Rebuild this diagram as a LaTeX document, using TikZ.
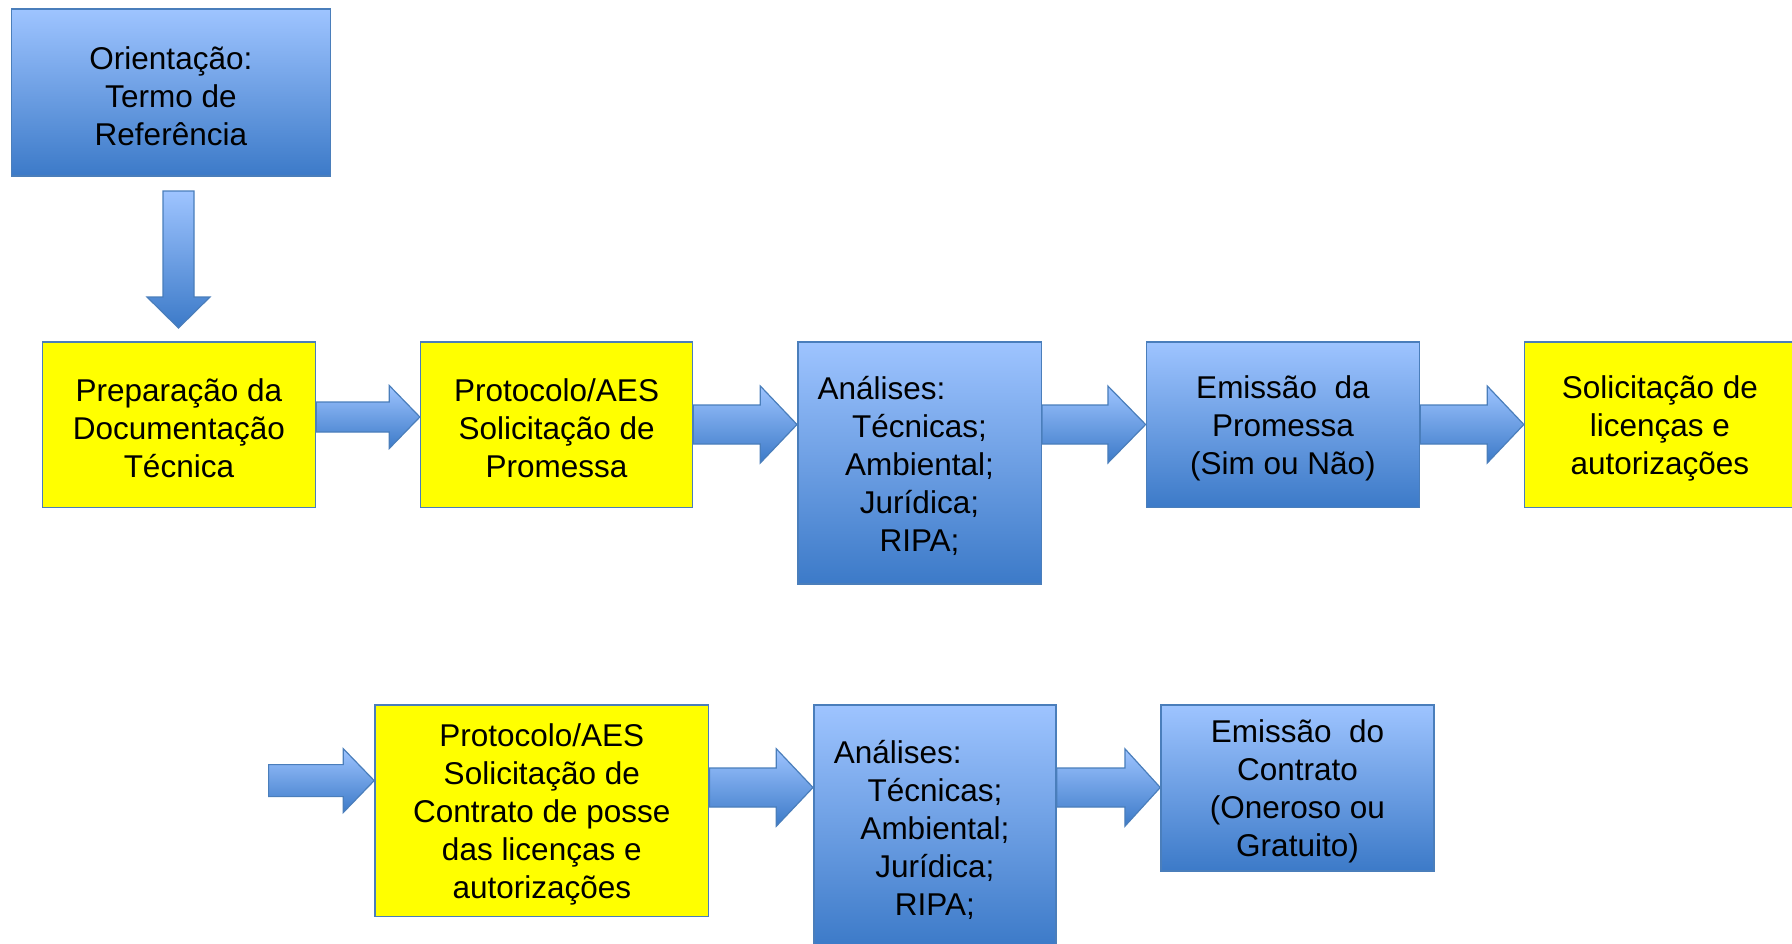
\documentclass[tikz,border=0pt]{standalone}
\usepackage{fontspec}
\setmainfont{Liberation Sans}
\usetikzlibrary{calc}
\definecolor{bord}{RGB}{74,126,187}
\definecolor{btop}{RGB}{158,196,255}
\definecolor{bbot}{RGB}{60,122,200}
\definecolor{yel}{RGB}{255,255,0}
\tikzset{
  box/.style={draw=bord, line width=1.5pt, inner sep=0pt},
  ybox/.style={box, fill=yel},
  bbox/.style={box, top color=btop, bottom color=bbot},
  txt/.style={inner sep=0pt, align=center, font=\fontsize{31.5}{38}\selectfont, text=black},
  barrow/.style={draw=bord, line width=1.2pt, top color=btop, bottom color=bbot, line join=miter},
}
% #1 tail, #2 tip, #3 y centre (px), #4 shaft half height, #5 head half height, #6 head length
\newcommand{\hbarrow}[6]{%
  \draw[barrow] let \p1=(#1), \p2=(#2) in
    (\x1,{#3-#4}) -- ({\x2-#6pt},{#3-#4}) -- ({\x2-#6pt},{#3-#5}) -- (\x2,#3)
    -- ({\x2-#6pt},{#3+#5}) -- ({\x2-#6pt},{#3+#4}) -- (\x1,{#3+#4}) -- cycle;
}
\begin{document}
\begin{tikzpicture}[x=1pt,y=-1pt]
\useasboundingbox (0,0) rectangle (1792,943);

% top box
\node[bbox, minimum width=318.9pt, minimum height=166.9pt] (top) at (170.9,92.6) {};
\node[txt] (ttop) at ([yshift=-3.5pt]top.center) {Orientação:\\Termo de\\Referência};

% row 1
\node[ybox, minimum width=273.1pt, minimum height=165.7pt] (b1) at (178.9,424.6) {};
\node[txt] (tb1) at ([yshift=-3.5pt]b1.center) {Preparação da\\Documentação\\Técnica};
\node[ybox, minimum width=272pt, minimum height=165.7pt] (b2) at (556.6,424.6) {};
\node[txt] (tb2) at ([yshift=-3.5pt]b2.center) {Protocolo/AES\\Solicitação de\\Promessa};
\node[bbox, minimum width=243.5pt, minimum height=242.3pt] (b3) at (919.5,462.9) {};
\node[txt] (tb3) at ([yshift=-3.5pt]b3.center)
  {\makebox[204pt][l]{Análises:}\\Técnicas;\\Ambiental;\\Jurídica;\\RIPA;};
\node[bbox, minimum width=273.1pt, minimum height=165.7pt] (b4) at (1282.9,424.6) {};
\node[txt] (tb4) at ([yshift=-3.5pt]b4.center) {Emissão\ \ da\\Promessa\\(Sim ou Não)};
\node[ybox, minimum width=270.4pt, minimum height=165.7pt] (b5) at (1659.8,424.6) {};
\node[txt] (tb5) at ([yshift=-3.5pt]b5.center) {Solicitação de\\licenças e\\autorizações};

% row 2
\node[ybox, minimum width=333.7pt, minimum height=211.6pt] (c1) at (541.8,810.8) {};
\node[txt] (tc1) at ([yshift=-3.5pt]c1.center)
  {Protocolo/AES\\Solicitação de\\Contrato de posse\\das licenças e\\autorizações};
\node[bbox, minimum width=242.3pt, minimum height=242pt] (c2) at (934.9,826) {};
\node[txt] (tc2) at ([yshift=-3.5pt]c2.center)
  {\makebox[202pt][l]{Análises:}\\Técnicas;\\Ambiental;\\Jurídica;\\RIPA;};
\node[bbox, minimum width=273pt, minimum height=166pt] (c3) at (1297.5,788) {};
\node[txt] (tc3) at ([yshift=-3.5pt]c3.center) {Emissão\ \ do\\Contrato\\(Oneroso ou\\Gratuito)};

% down arrow
\coordinate (dt) at (178.5,191);
\coordinate (dh) at (178.5,328);
\draw[barrow] let \p1=(dt), \p2=(dh) in
  ({\x1-15.5pt},\y1) -- ({\x1+15.5pt},\y1) -- ({\x1+15.5pt},{\y2+31pt}) -- ({\x1+31.5pt},{\y2+31pt})
  -- (\x2,\y2) -- ({\x1-31.5pt},{\y2+31pt}) -- ({\x1-15.5pt},{\y2+31pt}) -- cycle;

% row 1 arrows
\hbarrow{b1.east}{b2.west}{417}{15}{31.5}{30.6}
\hbarrow{b2.east}{b3.west}{424.5}{19.5}{38.5}{36.7}
\hbarrow{b3.east}{b4.west}{424.5}{19.5}{38.5}{37.7}
\hbarrow{b4.east}{b5.west}{424.5}{19.5}{38.5}{36.6}

% row 2 arrows
\coordinate (in2) at (268.6,780.6);
\hbarrow{in2}{c1.west}{780.6}{16}{32}{31}
\hbarrow{c1.east}{c2.west}{787.5}{19.5}{38.7}{36.7}
\hbarrow{c2.east}{c3.west}{787.5}{19.5}{38.7}{35.3}
\end{tikzpicture}
\end{document}
